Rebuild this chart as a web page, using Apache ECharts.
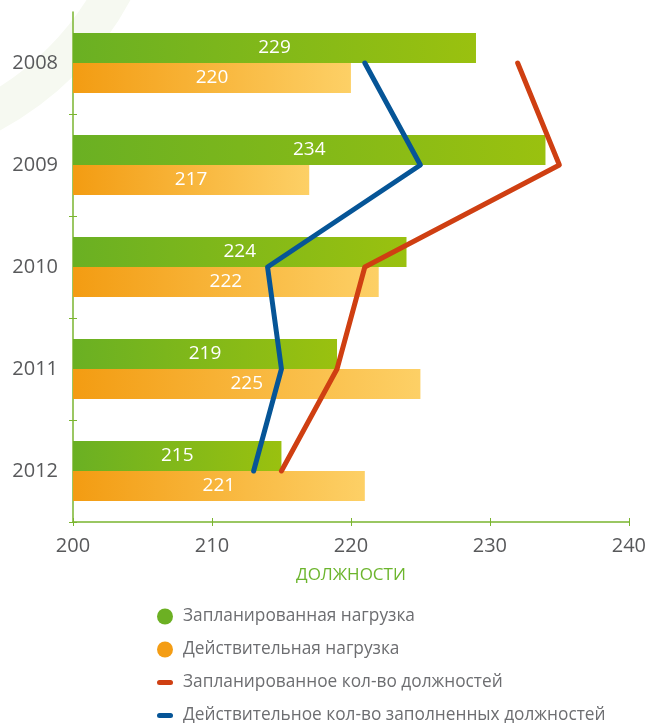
<!DOCTYPE html>
<html>
<head>
<meta charset="utf-8">
<script src="https://cdn.jsdelivr.net/npm/echarts@6/dist/echarts.min.js"></script>
<style>
  html, body { margin: 0; padding: 0; background: #fff; }
  #chart { width: 649px; height: 723px; }
</style>
</head>
<body>
<div id="chart"></div>
<script>
// Staffing by year: planned vs actual workload (bars) and planned vs filled positions (lines)
const years = ['2008', '2009', '2010', '2011', '2012'];
const plannedLoad = [229, 234, 224, 219, 215];
const actualLoad = [220, 217, 222, 225, 221];
const plannedPositions = [232, 235, 221, 219, 215];
const filledPositions = [221, 225, 214, 215, 213];
const xTicks = { min: 200, max: 240, step: 10 };

const seriesNames = [
  'Запланированная нагрузка',
  'Действительная нагрузка',
  'Запланированное кол-во должностей',
  'Действительное кол-во заполненных должностей'
];

const FONT = '"Open Sans", "Noto Sans", sans-serif';
const AXIS_GREEN = '#7ab52f';
const GREEN = '#6cb023';
const ORANGE = '#f49d14';
const RED = '#cf3f12';
const BLUE = '#065597';
const lineIcon = 'path://M2.5,0 L13.5,0 A2.5,2.5 0 0 1 13.5,5 L2.5,5 A2.5,2.5 0 0 1 2.5,0 Z';

function hGradient(from, to) {
  return new echarts.graphic.LinearGradient(0, 0, 1, 0, [
    { offset: 0, color: from },
    { offset: 1, color: to }
  ]);
}

const barLabel = {
  show: true,
  position: 'inside',
  color: '#ffffff',
  fontFamily: FONT,
  fontSize: 19,
  padding: [3, 0, 0, 0]
};

const chart = echarts.init(document.getElementById('chart'), null, { renderer: 'canvas' });

chart.setOption({
  animation: false,
  backgroundColor: '#ffffff',
  graphic: [{
    type: 'circle',
    z: -10,
    silent: true,
    shape: { cx: -150, cy: -150, r: 299 },
    style: { fill: 'none', stroke: '#f6f9f1', lineWidth: 38 }
  }],
  grid: { left: 73, right: 20, top: 12, bottom: 201 },
  legend: {
    orient: 'vertical',
    left: 157,
    top: 608,
    height: 160,
    padding: 0,
    itemWidth: 16,
    itemHeight: 16,
    itemGap: 16,
    textStyle: {
      fontFamily: FONT,
      fontSize: 17.3,
      color: '#6d6e71',
      padding: [0, 0, 0, 5]
    },
    data: [
      { name: seriesNames[0], icon: 'circle', itemStyle: { color: GREEN } },
      { name: seriesNames[1], icon: 'circle', itemStyle: { color: ORANGE } },
      { name: seriesNames[2], icon: lineIcon, itemStyle: { color: RED } },
      { name: seriesNames[3], icon: lineIcon, itemStyle: { color: BLUE } }
    ]
  },
  xAxis: [{
    type: 'value',
    min: xTicks.min,
    max: xTicks.max,
    interval: xTicks.step,
    name: 'ДОЛЖНОСТИ',
    nameLocation: 'middle',
    nameGap: 45,
    nameTextStyle: { color: '#6cb52d', fontFamily: FONT, fontSize: 17 },
    axisLine: { show: true, lineStyle: { color: AXIS_GREEN, width: 1.5 } },
    axisTick: { show: true, length: 4, lineStyle: { color: AXIS_GREEN } },
    axisLabel: { color: '#58595b', fontFamily: FONT, fontSize: 20, margin: 14 },
    splitLine: { show: false }
  }, {
    type: 'value',
    min: xTicks.min,
    max: xTicks.max,
    interval: xTicks.step,
    position: 'bottom',
    axisLine: { show: false },
    axisTick: { show: true, inside: true, length: 4, lineStyle: { color: AXIS_GREEN } },
    axisLabel: { show: false },
    splitLine: { show: false }
  }],
  yAxis: [{
    type: 'category',
    data: years,
    inverse: true,
    axisLine: { show: true, lineStyle: { color: AXIS_GREEN, width: 1.5 } },
    axisTick: { show: true, length: 4, interval: (i) => i !== 0, lineStyle: { color: AXIS_GREEN } },
    axisLabel: { color: '#58595b', fontFamily: FONT, fontSize: 20, margin: 15 }
  }, {
    type: 'category',
    data: years,
    inverse: true,
    position: 'left',
    axisLine: { show: false },
    axisTick: { show: true, inside: true, length: 4, interval: (i) => i !== 0, lineStyle: { color: AXIS_GREEN } },
    axisLabel: { show: false }
  }],
  series: [{
    name: seriesNames[0],
    type: 'bar',
    data: plannedLoad,
    barWidth: 30,
    barGap: '0%',
    itemStyle: { color: hGradient('#6ab023', '#9ac10f') },
    label: barLabel,
    z: 2
  }, {
    name: seriesNames[1],
    type: 'bar',
    data: actualLoad,
    barWidth: 30,
    barGap: '0%',
    itemStyle: { color: hGradient('#f39c12', '#fdd066') },
    label: barLabel,
    z: 2
  }, {
    name: seriesNames[2],
    type: 'line',
    data: plannedPositions,
    showSymbol: false,
    symbol: 'none',
    color: RED,
    lineStyle: { color: RED, width: 5, cap: 'round', join: 'round' },
    z: 5
  }, {
    name: seriesNames[3],
    type: 'line',
    data: filledPositions,
    showSymbol: false,
    symbol: 'none',
    color: BLUE,
    lineStyle: { color: BLUE, width: 5, cap: 'round', join: 'round' },
    z: 5
  }]
});
</script>
</body>
</html>
